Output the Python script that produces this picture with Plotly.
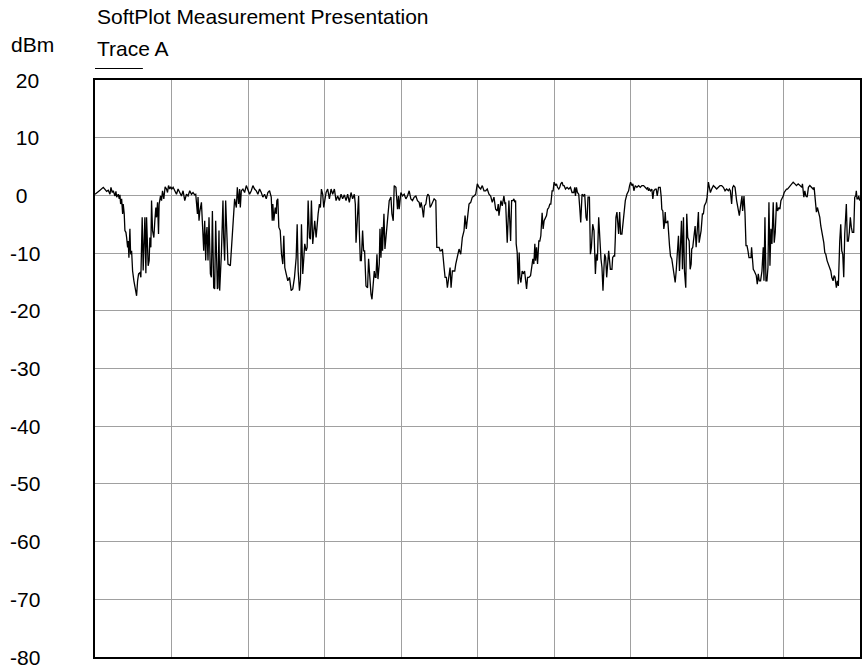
import plotly.graph_objects as go

# ---------------- data ----------------
sweep_point = [
    0, 1.7, 5, 8.3, 10, 11.7, 13.3, 15, 16, 17.3, 18.3, 20, 21, 21.7, 23.3, 24.3, 25, 25.7, 26.7, 27.7,
    28.3, 29.3, 30, 31, 31.7, 32.7, 33.3, 34, 35, 35.7, 36.7, 37.7, 39, 40.3, 41.7, 42.7, 43.7, 45, 46, 47.3,
    48.3, 50, 51, 51.7, 53.3, 54.3, 55, 56, 56.7, 57.7, 59, 60, 61, 61.7, 62.7, 63.7, 64.3, 65.7, 66.7, 67.7,
    69, 70.3, 71.7, 72.7, 73.7, 75, 76, 77, 78.3, 80, 81.7, 83.3, 85, 86.7, 88.3, 90, 91.7, 93.3, 95, 96.7,
    98.3, 100, 101, 101.7, 102.7, 103.3, 104.3, 105, 106.7, 108.3, 109, 110, 111, 111.7, 112.3, 113.3, 114.3, 115.7, 116.7, 117.7,
    119, 120, 121, 122.7, 123.3, 124.3,
    125, 126.7, 128.3, 129, 130, 131, 132.3, 133.3, 135.7, 137.7, 140, 141.7, 142.7, 144, 145, 145.7, 146.7, 148.3, 150, 151.7,
    153.3, 155, 156.7, 158.3, 160, 161.7, 163.3, 165, 166.7, 168.3, 170, 171.7, 173.3, 175, 176.7, 177.7, 178.3, 179.3, 180.7, 181.7,
    182.3, 183.3, 184.3, 185.7, 187, 188.3, 189.3, 190.3, 191.7, 193.3, 195, 196.7, 198.3, 200, 201.7, 202.7, 203.7, 205, 206, 207,
    208.3, 209.3, 210.3, 211.7, 212.7, 213.7, 215, 216, 217, 218.3, 219.3, 220.3, 221.7, 222.7, 223.7, 225, 226, 227, 228.3, 229.3,
    230.3, 231.7, 233.3, 235, 236.7, 238.3, 240, 241.7, 243.3, 245, 246.7, 248.3, 250, 251.7, 253.3, 255, 256.7, 258.3,
    260, 261, 261.7, 262.3, 263.3, 264.3, 265, 266, 267, 268.3, 269.3, 270.3, 271.7, 273.3, 274.3, 275.7, 276.7, 277.7, 279, 280,
    281, 281.7, 282.7, 283.7, 285, 285.7, 286.7, 287.7, 288.3, 289.7, 290.7, 291.7, 293.3, 295, 296.7, 297.7, 299, 300, 301.7, 303.3,
    304.3, 305, 306.7, 308.3, 310, 311.7, 313.3, 315, 316.7, 318.3, 320, 321.7, 323.3, 325, 326, 327, 328.3, 329.3, 330.3, 331.7,
    332.7, 333.7, 335, 336, 337, 338.3, 340, 341.7, 342.7, 343.7, 345, 346, 347, 348.3, 349, 350, 351, 352.3, 353.3, 354.3,
    355, 356, 357, 358.3, 359.3, 360.7, 361.7, 363.3, 365, 366.7, 368.3, 370, 371, 372.3, 373.3, 374.3, 375, 376.7, 378.3, 380,
    381.7, 383.3, 385, 386.7, 388.3, 390,
    391.7, 393.3, 395, 396.7, 398.3, 400, 401.7, 403.3, 404.3, 405, 406, 407, 408.3, 410, 411, 411.7, 413.3, 414.3, 415, 416.7,
    417.7, 419, 420, 421, 421.7, 422.3, 423.3, 424.3, 425.3, 426, 427, 428.3, 429.3, 430.7, 431.7, 432.7, 433.7, 435, 436.7, 437.7,
    439, 440, 441, 441.7, 442.7, 443.7, 445, 446, 447, 448.3, 449.3, 450.3, 451.7, 452.7, 453.7, 455, 456, 457, 457.7, 458.3,
    459.3, 460.3, 461.7, 462.7, 463.7, 465, 466, 467, 468.3, 469.3, 470.3, 471.7, 473.3, 475, 476.7, 478.3, 480, 481, 481.7, 482.7,
    483.7, 485, 486, 487, 488.3, 489.7, 491, 492.3, 493.3, 494.3, 495.7, 496.7, 497.7, 499, 500.3, 501.7, 502.7, 503.7, 505, 506.3,
    507.3, 508.3, 509.3, 510.3, 511, 512, 513,
    515, 516.7, 518.3, 519, 520, 521, 521.7, 522.3, 523.3, 524.3, 525, 526, 527, 528.3, 529.3, 530.3, 531.7, 533.3, 535, 536,
    537, 538.3, 539.3, 540.3, 541.7, 543.3, 545, 546.7, 548.3, 550, 551.7, 553.3, 554.3, 555, 556, 557, 558.3, 559.3, 560.3, 561.7,
    562.7, 563.7, 565, 566.7, 567.7, 568.3, 569.3, 570.3, 571, 571.7, 572.3, 573.3, 574.3, 575, 576, 577, 578.3, 579.3, 580.3, 581.7,
    582.7, 583.7, 585, 586, 587, 588, 589, 590, 591, 592.3, 593.3, 594.3, 595.7, 596.7, 597.7, 598.3, 599.3, 600.3, 601.7, 602.7,
    603.7, 605, 605.7, 606.7, 607.7, 609, 610, 611, 611.7, 612.7, 613.7, 614.3, 615, 616, 617, 618.3, 620, 621.7, 623.3, 625,
    626.7, 628.3, 630, 631.7, 633.3, 635, 636, 637, 638.3, 639.3, 640.3, 641.7, 643.3,
    646, 646.7, 648, 648.7, 649.3, 650.7, 651.7, 652.7, 653.7, 654.7, 655.7, 656.7, 657.7, 658.3, 659, 660, 661, 662, 663, 664,
    665, 666, 667.3, 668.7, 670, 670.7, 671.7, 672.7, 673.7, 674.7, 675.7, 676.7, 677.7, 678.7, 680, 681, 682, 683.3, 684.3, 685.7,
    686.7, 687.7, 688.7, 690, 691, 692, 693.3, 694.3, 695.7, 696.7, 698.3, 700, 701.7, 703.3, 705, 706.7, 707.7, 708.7, 709.3, 710.7,
    711.7, 712.7, 714, 715.3, 716.7, 718.3, 720, 721, 722, 723.3, 724.3, 725.3, 726.7, 727.7, 728.7, 730, 730.7, 731.7, 732.7, 734,
    735, 736.7, 737.7, 738.7, 740, 741, 742, 743.3, 744.3, 745.3, 746, 746.7, 747.7, 748.7, 749.7, 750.7, 751.7, 752.7, 753.3, 754.3,
    755.3, 756.3, 757.3, 758.3, 759.3, 760.7, 761.7, 762.7, 763.3, 764, 765, 765.7, 766.7,
]

level_dbm = [
    0.2, 0.5, 0.9, 1.4, 1.1, 0.7, 0.9, 0.2, 1.4, 0.5, 0.8, -0.1, 0.7, -0.3, 0.2, -0.6, 0.1, -1.5, -0.6, -3.2,
    -1.5, -3.2, -6.1, -6.4, -7.3, -9.0, -7.9, -10.8, -5.8, -10.2, -9.6, -13.1, -14.8, -16.5, -17.4, -14.8, -13.6, -13.4, -14.2, -3.8,
    -13.0, -3.8, -13.5, -3.8, -12.2, -11.3, -7.3, -9.0, -0.9, -6.1, -7.3, -4.4, -2.1, -3.8, -1.2, -6.7, -1.5, -0.1, -0.9, 0.8,
    -0.6, 1.5, 1.1, 0.5, 1.7, 1.1, 1.5, 1.1, 1.4, 0.8, 0.2, 1.1, 0.5, -0.1, 0.8, -0.9, 0.2, -0.1, 0.8, 0.2,
    0.5, 0.1, 0.2, -1.5, -3.2, -0.3, -4.4, -2.9, -1.2, -7.0, -9.6, -4.4, -11.3, -6.7, -5.5, -11.3, -3.8, -13.6, -14.2, -2.7,
    -16.0, -16.2, -4.4, -16.2, -16.0, -6.1,
    -16.5, -10.2, -0.9, -7.3, -11.3, -0.9, -6.1, -11.9, -12.2, -7.3, -0.6, -2.1, 1.4, -1.5, 1.1, -2.1, 0.8, 1.1, 0.5, 1.7,
    1.1, 0.2, 0.8, 1.7, 1.1, 0.8, 0.2, 1.1, 0.5, -0.3, 0.2, -0.6, 0.5, 0.8, -0.3, -4.4, -1.5, -4.4, -2.1, -3.2,
    -0.9, -0.6, -5.5, -6.1, -10.2, -11.9, -7.0, -12.5, -13.6, -14.8, -14.2, -16.5, -16.2, -14.2, -10.8, -5.0, -13.1, -16.5, -14.8, -5.0,
    -13.6, -9.6, -8.4, -9.6, -9.0, -0.9, -7.3, -7.6, -0.9, -8.4, -6.7, -4.4, -7.3, -4.4, -3.2, -1.5, -2.1, 1.1, 0.2, -2.1,
    -1.2, 0.5, 1.1, -0.6, 1.1, 0.2, 1.1, -0.9, -0.1, -0.9, 0.2, -0.6, 0.1, -0.9, 0.2, -1.2, 0.5, -0.6,
    0.2, -1.5, -8.2, -6.1, -1.5, -0.1, -6.1, -11.3, -11.3, -6.1, -9.6, -9.6, -15.7, -16.0, -11.0, -16.0, -17.1, -18.0, -14.2, -13.1,
    -14.2, -14.2, -10.2, -14.5, -11.9, -5.8, -10.8, -5.5, -9.6, -3.2, -9.3, -7.3, -5.3, -0.9, -0.3, -3.2, -4.4, 1.7, 1.4, -2.4,
    -0.1, -2.4, 0.5, -0.1, 0.2, -0.6, -0.1, 0.8, -0.6, -0.9, -0.3, -0.1, -0.9, -1.2, -2.1, -1.2, -2.4, -3.8, -1.8, -1.5,
    -0.3, 0.2, -0.1, -2.1, -1.8, -1.2, -0.6, -0.9, -9.0, -9.0, -9.0, -9.6, -9.6, -9.3, -11.6, -12.5, -14.2, -14.2, -16.0, -14.2,
    -13.1, -12.5, -16.0, -13.1, -13.1, -13.1, -11.9, -10.5, -9.3, -10.2, -7.3, -6.1, -3.5, -5.8, -3.8, -3.2, -1.5, -1.2, -0.3, -0.1,
    0.2, 2.0, 1.4, 1.1, 1.7, 0.8,
    0.8, 1.1, 0.2, -0.1, -1.2, -0.3, -2.4, -2.7, -1.5, -3.5, -2.1, -0.9, -1.8, -0.1, -1.5, -1.2, -8.2, -1.5, -0.9, -7.9,
    -0.9, -0.9, -0.6, -1.2, -0.9, -8.4, -9.9, -15.4, -9.9, -14.2, -15.1, -13.1, -13.6, -13.1, -14.5, -16.2, -14.2, -14.2, -13.9, -12.5,
    -11.0, -11.9, -8.4, -11.3, -9.0, -11.9, -7.9, -7.9, -7.0, -3.0, -5.8, -4.4, -3.8, -3.5, -2.4, -2.1, -1.5, -1.5, -0.3, 0.8,
    0.8, 2.3, 1.7, 2.0, 1.4, 1.1, 1.4, 2.0, 2.3, 1.7, 1.7, 1.1, 1.4, 1.1, 1.4, 0.5, 0.5, 1.4, -0.1, 1.4,
    0.5, 0.2, -2.1, -4.7, 0.2, -0.1, 0.2, -3.8, -4.4, -0.3, -0.3, -10.2, -9.0, -5.0, -6.1, -13.6, -10.2, -11.3, -3.8, -9.6,
    -11.0, -12.5, -16.5, -12.5, -10.2, -10.8, -14.2,
    -9.6, -12.8, -12.8, -10.8, -10.5, -10.5, -7.3, -3.8, -2.9, -6.7, -6.7, -2.9, -6.7, -6.7, -5.0, -2.4, -0.9, 0.2, 0.8, 1.7,
    2.3, 1.7, 2.0, 0.8, 1.7, 1.4, 1.7, 1.4, 1.7, 1.7, 1.4, 1.1, 1.4, 0.8, 1.1, 0.8, 1.1, -0.6, 0.8, 1.1,
    1.1, -0.1, 1.4, 1.4, -0.3, -2.4, -2.7, -5.8, -5.0, -2.9, -4.7, -4.7, -4.4, -6.7, -8.7, -10.5, -11.0, -12.2, -13.6, -15.1,
    -13.1, -10.2, -7.0, -13.1, -9.6, -4.4, -12.8, -3.8, -13.1, -16.0, -3.2, -7.3, -7.9, -12.8, -11.9, -9.3, -9.0, -7.3, -5.3, -9.0,
    -6.4, -2.9, -8.2, -7.3, -6.1, -3.2, -3.2, -1.8, -1.5, -1.2, -0.3, 1.4, 2.3, 1.4, 0.5, 1.1, 1.7, 1.4, 1.1, 1.4,
    1.7, 1.7, 1.4, 0.8, 1.1, 0.8, 1.1, 0.8, -1.5, 1.4, 1.7, 1.4, -0.9,
    -3.5, -2.1, -0.9, -0.1, -2.7, -0.1, -3.2, -8.7, -8.7, -9.6, -10.8, -10.8, -10.8, -9.0, -10.8, -12.8, -13.1, -13.4, -13.9, -15.4,
    -13.6, -14.8, -14.8, -13.1, -9.0, -14.8, -3.8, -14.8, -14.8, -12.5, -1.2, -12.2, -5.8, -8.4, -1.2, -8.2, -6.4, -1.2, -2.7, -2.1,
    -2.4, -0.9, -0.6, -0.1, 0.5, 0.8, 1.1, 1.1, 1.4, 1.7, 2.0, 2.3, 2.0, 1.7, 2.0, 1.7, 1.7, 1.4, 2.0, -0.3,
    0.8, -0.1, -0.3, 1.4, 1.7, 1.4, 1.1, 1.4, -0.3, -2.9, -2.1, -2.7, -3.8, -5.3, -6.1, -7.3, -8.2, -9.9, -10.2, -11.3,
    -11.9, -12.5, -13.1, -14.2, -14.8, -13.9, -14.2, -16.0, -14.8, -15.7, -10.2, -7.9, -5.0, -9.6, -10.2, -14.2, -6.7, -3.8, -1.5, -7.9,
    -7.9, -6.4, -3.8, -5.5, -6.4, -6.4, -0.3, -0.1, 0.8, -0.6, -0.6, -0.1, -0.9,
]

y_ticks = [20, 10, 0, -10, -20, -30, -40, -50, -60, -70, -80]
title_text = "SoftPlot Measurement Presentation"
trace_name = "Trace A"
unit_text = "dBm"

# ---------------- layout geometry ----------------
# The page body margin is removed (see post_script), so page pixels == figure pixels.
W, H = 864, 669
ML, MT = 95, 80
PLOT_RIGHT, PLOT_BOTTOM = 862, 657
MR, MB = W - PLOT_RIGHT, H - PLOT_BOTTOM
PW, PH = W - ML - MR, H - MT - MB
FONT = "Liberation Sans, Arial, sans-serif"
FS = 21


def px_to_paper_x(px):
    return (px - ML) / PW


def px_to_paper_y(py):
    return 1 - (py - MT) / PH


fig = go.Figure()
fig.add_trace(go.Scatter(
    x=sweep_point, y=level_dbm, mode="lines", name=trace_name,
    line=dict(color="black", width=1.3), showlegend=False, hoverinfo="x+y",
))

annotations = []
for v in y_ticks:
    label = ("\u00a0" if v >= 0 else "") + str(v)
    annotations.append(dict(
        x=px_to_paper_x(8), xref="paper", y=v, yref="y", text=label,
        xanchor="left", yanchor="middle", showarrow=False,
        font=dict(family=FONT, size=FS, color="black"),
    ))
annotations.append(dict(
    x=px_to_paper_x(9), xref="paper", y=px_to_paper_y(44), yref="paper", text=unit_text,
    xanchor="left", yanchor="middle", showarrow=False, font=dict(family=FONT, size=FS, color="black"),
))
annotations.append(dict(
    x=px_to_paper_x(95), xref="paper", y=px_to_paper_y(16), yref="paper", text=title_text,
    xanchor="left", yanchor="middle", showarrow=False, font=dict(family=FONT, size=FS, color="black"),
))
annotations.append(dict(
    x=px_to_paper_x(95), xref="paper", y=px_to_paper_y(48), yref="paper", text=trace_name,
    xanchor="left", yanchor="middle", showarrow=False, font=dict(family=FONT, size=FS, color="black"),
))

fig.update_layout(
    width=W, height=H,
    margin=dict(l=ML, r=MR, t=MT, b=MB, pad=0),
    paper_bgcolor="white", plot_bgcolor="white",
    annotations=annotations,
    shapes=[dict(type="line", xref="paper", yref="paper",
                 x0=px_to_paper_x(95), x1=px_to_paper_x(143),
                 y0=px_to_paper_y(68.5), y1=px_to_paper_y(68.5),
                 line=dict(color="black", width=1.2))],
    xaxis=dict(range=[0, 767], tick0=0, dtick=76.7, showgrid=True, gridcolor="#a0a0a0", gridwidth=1,
               showticklabels=False, ticks="", zeroline=False,
               showline=True, mirror=True, linecolor="black", linewidth=1.5, fixedrange=True),
    yaxis=dict(range=[-80, 20], tick0=0, dtick=10, showgrid=True, gridcolor="#a0a0a0", gridwidth=1,
               showticklabels=False, ticks="", zeroline=False,
               showline=True, mirror=True, linecolor="black", linewidth=1.5, fixedrange=True),
)

fig.write_html("out.html", config={"displayModeBar": False},
               post_script="document.body.style.margin='0px';")
